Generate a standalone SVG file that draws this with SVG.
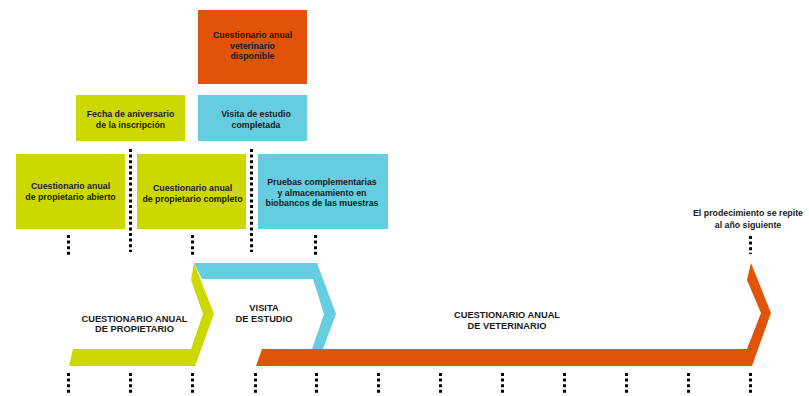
<svg xmlns="http://www.w3.org/2000/svg" width="809" height="396" viewBox="0 0 809 396">
<style>
.t{font-family:"Liberation Sans",Arial,sans-serif;font-weight:bold;font-size:8.8px;fill:#1a1a1a;text-anchor:middle}
.c{font-family:"Liberation Sans",Arial,sans-serif;font-weight:bold;font-size:9.3px;fill:#1a1a1a;text-anchor:middle}
.g{fill:#CDD800}
.b{fill:#66CDE0}
.o{fill:#E05308}
.d{stroke:#000;stroke-width:3;stroke-dasharray:3 2.6;fill:none}
</style>
<rect width="809" height="396" fill="#fff"/>
<g id="connectors">
<line class="d" x1="130.5" y1="149" x2="130.5" y2="252"/>
<line class="d" x1="251.5" y1="149" x2="251.5" y2="252"/>
<line class="d" x1="68.5" y1="235" x2="68.5" y2="255"/>
<line class="d" x1="192.5" y1="235" x2="192.5" y2="255"/>
<line class="d" x1="315.5" y1="235" x2="315.5" y2="255"/>
<line class="d" x1="750.5" y1="236" x2="750.5" y2="254"/>
<g id="ticks">
<line class="d" x1="68.5" y1="373" x2="68.5" y2="394"/>
<line class="d" x1="130.5" y1="373" x2="130.5" y2="394"/>
<line class="d" x1="192.5" y1="373" x2="192.5" y2="394"/>
<line class="d" x1="255.5" y1="373" x2="255.5" y2="394"/>
<line class="d" x1="316.5" y1="373" x2="316.5" y2="394"/>
<line class="d" x1="378.5" y1="373" x2="378.5" y2="394"/>
<line class="d" x1="440.5" y1="373" x2="440.5" y2="394"/>
<line class="d" x1="502.5" y1="373" x2="502.5" y2="394"/>
<line class="d" x1="564.5" y1="373" x2="564.5" y2="394"/>
<line class="d" x1="626.5" y1="373" x2="626.5" y2="394"/>
<line class="d" x1="688.5" y1="373" x2="688.5" y2="394"/>
<line class="d" x1="750.5" y1="373" x2="750.5" y2="394"/>
</g>
</g>
<g id="n-vet-disponible">
<rect class="o" x="198" y="10" width="109" height="74"/>
<text class="t" x="252.5" y="38">Cuestionario anual</text>
<text class="t" x="252.5" y="48.5">veterinario</text>
<text class="t" x="252.5" y="59">disponible</text>
</g>
<g id="n-fecha">
<rect class="g" x="76" y="95" width="109" height="46"/>
<text class="t" x="130.5" y="117">Fecha de aniversario</text>
<text class="t" x="130.5" y="128">de la inscripción</text>
</g>
<g id="n-visita">
<rect class="b" x="198" y="95" width="109" height="46"/>
<text class="t" x="256" y="117">Visita de estudio</text>
<text class="t" x="256" y="128">completada</text>
</g>
<g id="n-abierto">
<rect class="g" x="16" y="154" width="109" height="75"/>
<text class="t" x="70.5" y="189">Cuestionario anual</text>
<text class="t" x="70.5" y="199.5">de propietario abierto</text>
</g>
<g id="n-completo">
<rect class="g" x="137" y="154" width="109" height="75"/>
<text class="t" x="192.5" y="191">Cuestionario anual</text>
<text class="t" x="192.5" y="202">de propietario completo</text>
</g>
<g id="n-pruebas">
<rect class="b" x="258" y="154" width="130" height="75"/>
<text class="t" x="322" y="185">Pruebas complementarias</text>
<text class="t" x="322" y="195.5">y almacenamiento en</text>
<text class="t" x="322" y="206">biobancos de las muestras</text>
</g>
<g id="n-repite">
<text class="t" x="748" y="216">El prodecimiento se repite</text>
<text class="t" x="748" y="228">al año siguiente</text>
</g>
<g id="ribbon-propietario">
<polygon class="g" points="69,366 73,349 191,349 203,314 191,280 194,263 214,314 195,366"/>
<text class="c" x="134.5" y="321.5">CUESTIONARIO ANUAL</text>
<text class="c" x="134.5" y="331.5">DE PROPIETARIO</text>
</g>
<g id="ribbon-visita">
<polygon class="b" points="194,263 317,263 336,314 323,349 312,349 324,314 313,279 202,279"/>
<text class="c" x="264" y="311">VISITA</text>
<text class="c" x="264" y="321.5">DE ESTUDIO</text>
</g>
<g id="ribbon-veterinario">
<polygon class="o" points="262,349 747,349 761,313 747,280 751,263 771,313 752,366 256,366"/>
<text class="c" x="507" y="318">CUESTIONARIO ANUAL</text>
<text class="c" x="507" y="328.5">DE VETERINARIO</text>
</g>
</svg>
